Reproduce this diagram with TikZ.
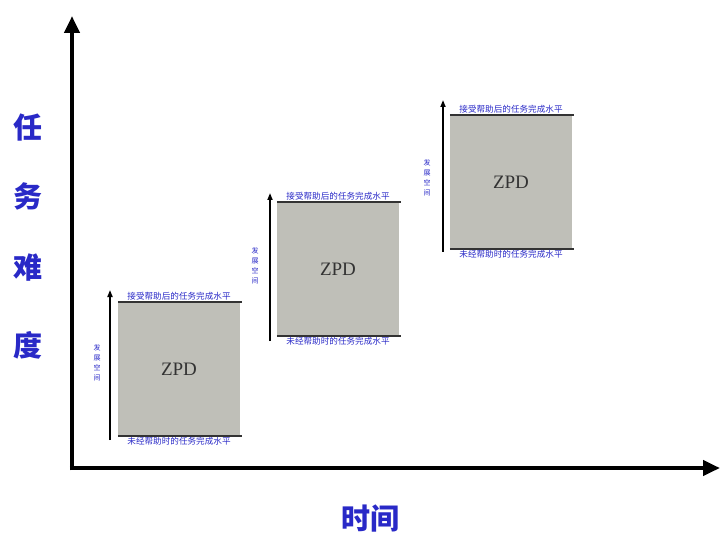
\documentclass[tikz,border=0pt]{standalone}
\usepackage{fontspec}
\usepackage{tikz}
\setmainfont{Liberation Serif}
\newfontfamily\cjk{Noto Sans CJK SC}
\usetikzlibrary{arrows.meta}
\usetikzlibrary{positioning}
\tikzset{axis/.style = {line width=4.5pt, -{Triangle[width=15pt,length=17pt]}}}
\tikzset{rise/.style = {line width=1.6pt, -{Triangle[width=5pt,length=7pt]}}}
\tikzset{level/.style = {line width=2.2pt, draw=black!80}}
\tikzset{zpdbox/.style = {fill=zgray, minimum width=122, minimum height=134, inner sep=0,
                          font=\fontsize{19}{19}\selectfont, text=black!80}}
\tikzset{tinytext/.style = {font=\cjk\fontsize{8.6}{9}\selectfont, text=lblue, inner sep=1pt}}
\tikzset{sidetext/.style = {font=\cjk\fontsize{7}{10}\selectfont, text=lblue, align=center, inner sep=0}}
\tikzset{axtext/.style = {font=\cjk\bfseries\fontsize{29}{30}\selectfont, text=lblue}}
\definecolor{lblue}{rgb}{0.16, 0.16, 0.78}
\definecolor{zgray}{rgb}{0.75, 0.75, 0.72}
\begin{document}
\begin{tikzpicture}[x=1pt, y=1pt]
      \useasboundingbox (0, 0) rectangle (722, 536);

      \coordinate (o) at (72, 68);
      \coordinate (ytip) at (72, 520);
      \coordinate (xtip) at (720, 68);

      \begin{scope}[shift={(118, 100)}]
        \node [zpdbox] (zA) at (61, 67) {ZPD};
        \draw [level] (zA.north west) -- ([xshift=2pt]zA.north east);
        \draw [level] (zA.south west) -- ([xshift=2pt]zA.south east);
        \node [tinytext, above=0pt of zA.north] (zAtop) {接受帮助后的任务完成水平};
        \node [tinytext, below=0pt of zA.south] (zAbot) {未经帮助时的任务完成水平};
        \coordinate (zAa) at (-8, -4);
        \coordinate (zAb) at (-8, 146);
        \draw [rise] (zAa) -- (zAb);
        \node [sidetext] (zAside) at (-21, 73) {发\\展\\空\\间};
      \end{scope}

      \begin{scope}[shift={(277, 200)}]
        \node [zpdbox] (zB) at (61, 67) {ZPD};
        \draw [level] (zB.north west) -- ([xshift=2pt]zB.north east);
        \draw [level] (zB.south west) -- ([xshift=2pt]zB.south east);
        \node [tinytext, above=0pt of zB.north] (zBtop) {接受帮助后的任务完成水平};
        \node [tinytext, below=0pt of zB.south] (zBbot) {未经帮助时的任务完成水平};
        \coordinate (zBa) at (-7, -5);
        \coordinate (zBb) at (-7, 143);
        \draw [rise] (zBa) -- (zBb);
        \node [sidetext] (zBside) at (-22, 70) {发\\展\\空\\间};
      \end{scope}

      \begin{scope}[shift={(450, 288)}]
        \node [zpdbox] (zC) at (61, 66) {ZPD};
        \draw [level] (zC.north west) -- ([xshift=2pt]zC.north east);
        \draw [level] (zC.south west) -- ([xshift=2pt]zC.south east);
        \node [tinytext, above=0pt of zC.north] (zCtop) {接受帮助后的任务完成水平};
        \node [tinytext, below=0pt of zC.south] (zCbot) {未经帮助时的任务完成水平};
        \coordinate (zCa) at (-7, -4);
        \coordinate (zCb) at (-7, 148);
        \draw [rise] (zCa) -- (zCb);
        \node [sidetext] (zCside) at (-23, 70) {发\\展\\空\\间};
      \end{scope}

      \draw [axis] ([xshift=-2.25pt]o) -- (xtip);
      \draw [axis] ([yshift=-2.25pt]o) -- (ytip);

      \node [axtext] (yl1) at (28, 408) {任};
      \node [axtext] (yl2) at (28, 340) {务};
      \node [axtext] (yl3) at (28, 268) {难};
      \node [axtext] (yl4) at (28, 191) {度};
      \node [axtext] (xl) at (370, 18) {时间};
    \end{tikzpicture}
\end{document}
